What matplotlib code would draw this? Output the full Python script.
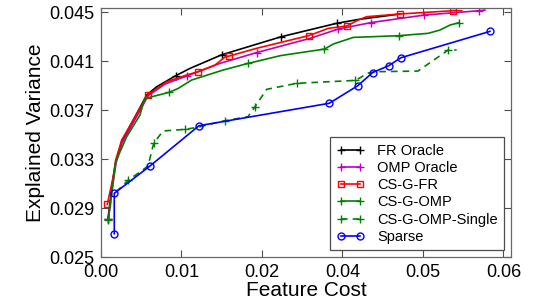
import matplotlib
matplotlib.use("Agg")
import matplotlib.pyplot as plt
from matplotlib.ticker import FormatStrFormatter

plt.rcParams['font.family'] = ['Liberation Sans', 'DejaVu Sans']

# ---- data ----
fr_x = [0.00104, 0.00179, 0.00224, 0.00313, 0.00681, 0.00830, 0.01114, 0.01327,
        0.01800, 0.02684, 0.03514, 0.03832, 0.04458]
fr_y = [0.02810, 0.03145, 0.03284, 0.03447, 0.03822, 0.03890, 0.03980, 0.04040,
        0.04151, 0.04298, 0.04408, 0.04439, 0.04484]
fr_marks = [0, 6, 8, 9, 10]

omp_x = [0.00109, 0.00186, 0.00224, 0.00313, 0.00705, 0.00954, 0.01278, 0.01774,
         0.02321, 0.03116, 0.03538, 0.04026, 0.04816, 0.05643, 0.05725]
omp_y = [0.02810, 0.03129, 0.03267, 0.03431, 0.03818, 0.03912, 0.03978, 0.04081,
         0.04169, 0.04285, 0.04361, 0.04414, 0.04475, 0.04511, 0.04516]
omp_marks = [0, 6, 8, 10, 11, 12, 13]

csfr_x = [0.00094, 0.00183, 0.00219, 0.00309, 0.00696, 0.00980, 0.01278, 0.01451,
          0.01700, 0.01849, 0.01913, 0.02321, 0.03101, 0.03265, 0.03389, 0.03663,
          0.03836, 0.03962, 0.04458, 0.05253, 0.05378]
csfr_y = [0.02930, 0.03156, 0.03292, 0.03455, 0.03822, 0.03931, 0.03986, 0.04013,
          0.04067, 0.04133, 0.04141, 0.04204, 0.04308, 0.04341, 0.04367, 0.04386,
          0.04435, 0.04462, 0.04484, 0.04511, 0.04511]
csfr_marks = [0, 4, 7, 10, 12, 15, 18, 19]

csomp_x = [0.00109, 0.00219, 0.00383, 0.00581, 0.00646, 0.00681, 0.01014, 0.01153,
           0.01352, 0.01824, 0.02196, 0.02684, 0.03240, 0.03332, 0.03464, 0.03762,
           0.04011, 0.04440, 0.04876, 0.05054, 0.05204, 0.05338]
csomp_y = [0.02802, 0.03278, 0.03482, 0.03659, 0.03787, 0.03798, 0.03844, 0.03877,
           0.03945, 0.04027, 0.04081, 0.04145, 0.04190, 0.04198, 0.04239, 0.04293,
           0.04298, 0.04307, 0.04326, 0.04353, 0.04394, 0.04413]
csomp_marks = [0, 6, 10, 13, 17, 21]

single_x = [0.00224, 0.00410, 0.00581, 0.00701, 0.00786, 0.00924, 0.01252, 0.01461,
            0.01849, 0.02191, 0.02296, 0.02470, 0.02917, 0.03794, 0.03985, 0.04110,
            0.04726, 0.05177, 0.05303]
single_y = [0.03031, 0.03129, 0.03194, 0.03243, 0.03428, 0.03529, 0.03542, 0.03561,
            0.03613, 0.03645, 0.03727, 0.03869, 0.03918, 0.03942, 0.04002, 0.04013,
            0.04018, 0.04190, 0.04190]
single_marks = [1, 4, 6, 8, 10, 12, 13, 17]

sparse_x = [0.00198, 0.00198, 0.00730, 0.01461, 0.03403, 0.03827, 0.04050, 0.04290,
            0.04472, 0.05799]
sparse_y = [0.02690, 0.03020, 0.03243, 0.03572, 0.03755, 0.03898, 0.04006, 0.04062,
            0.04127, 0.04342]

x_ticks = [0.0, 0.012, 0.024, 0.036, 0.048, 0.060]
y_ticks = [0.025, 0.029, 0.033, 0.037, 0.041, 0.045]

# ---- figure ----
fig = plt.figure(figsize=(5.36, 3.02), dpi=100)
ax = fig.add_axes([101/536, 45/302, 410/536, 249/302])

lw = 1.2
ax.plot(fr_x, fr_y, color='k', lw=lw, marker='+', ms=6, mew=1.0,
        markevery=fr_marks, label='FR Oracle')
ax.plot(omp_x, omp_y, color=(0.75, 0, 0.75), lw=lw, marker='+', ms=6, mew=1.0,
        markevery=omp_marks, label='OMP Oracle')
ax.plot(csfr_x, csfr_y, color='r', lw=lw, marker='s', ms=5, mew=1.0, mfc='none',
        markevery=csfr_marks, label='CS-G-FR')
ax.plot(csomp_x, csomp_y, color=(0, 0.5, 0), lw=lw, marker='+', ms=6, mew=1.0,
        markevery=csomp_marks, label='CS-G-OMP')
ax.plot(single_x, single_y, color=(0, 0.5, 0), lw=lw, ls='--', dashes=(4, 3),
        marker='+', ms=6, mew=1.0, markevery=single_marks, label='CS-G-OMP-Single')
ax.plot(sparse_x, sparse_y, color='b', lw=lw, marker='o', ms=5, mew=1.0, mfc='none',
        label='Sparse')

ax.set_xlim(0, 0.06113)
ax.set_ylim(0.025, 0.04533)
ax.set_xticks(x_ticks)
ax.set_yticks(y_ticks)
ax.xaxis.set_major_formatter(FormatStrFormatter('%.2f'))
ax.yaxis.set_major_formatter(FormatStrFormatter('%.3f'))
ax.tick_params(direction='in', top=True, right=True, labelsize=13, length=5,
               width=0.8, color='0.3', pad=5)
for s in ax.spines.values():
    s.set_color('0.4')
    s.set_linewidth(0.9)

ax.set_xlabel('Feature Cost', fontsize=15, labelpad=0)
ax.set_ylabel('Explained Variance', fontsize=15, labelpad=3)

leg = ax.legend(loc='lower right', numpoints=2, fontsize=10.5, handlelength=1.9,
                labelspacing=0.22, borderpad=0.45, borderaxespad=0.45,
                fancybox=False, framealpha=1, edgecolor='0.3', handletextpad=0.9)
leg.get_frame().set_linewidth(0.9)

fig.savefig('out.png', dpi=100)
